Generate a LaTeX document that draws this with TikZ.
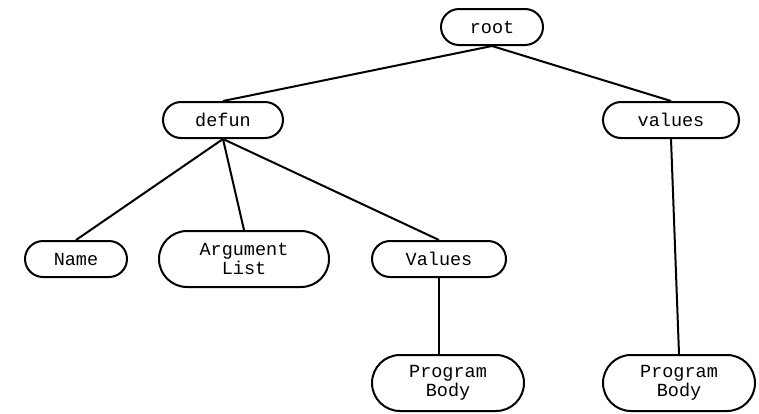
\documentclass[tikz,border=0pt]{standalone}
\usepackage{fontspec}
\setmonofont{Liberation Mono}
\usetikzlibrary{shapes.misc}
\begin{document}
\begin{tikzpicture}[x=1pt,y=-1pt,
  tnode/.style={draw=black,line width=2pt,rounded rectangle,inner sep=0pt,
    font=\ttfamily\fontsize{18.5}{19}\selectfont,align=center,minimum height=36pt},
  tall/.style={minimum height=56pt},
  edge/.style={line width=2pt}]
\useasboundingbox (0,0) rectangle (759,413);
\node[tnode,minimum width=102pt] (root) at (492,27) {root};
\node[tnode,minimum width=120pt] (defun) at (223,120) {defun};
\node[tnode,minimum width=136pt] (vals) at (671,120) {values};
\node[tnode,minimum width=102pt] (name) at (76,259) {Name};
\node[tnode,tall,minimum width=170pt] (arg) at (244,259) {Argument\\List};
\node[tnode,minimum width=134pt] (Vals) at (439,259) {Values};
\node[tnode,tall,minimum width=152pt] (pb1) at (448,383) {Program\\Body};
\node[tnode,tall,minimum width=152pt] (pb2) at (679,383) {Program\\Body};
\draw[edge] (root.south) -- (defun.north);
\draw[edge] (root.south) -- (vals.north);
\draw[edge] (defun.south) -- (name.north);
\draw[edge] (defun.south) -- (arg.north);
\draw[edge] (defun.south) -- (Vals.north);
\draw[edge] (Vals.south) -- (Vals.south |- pb1.north);
\draw[edge] (vals.south) -- (pb2.north);
\end{tikzpicture}
\end{document}
